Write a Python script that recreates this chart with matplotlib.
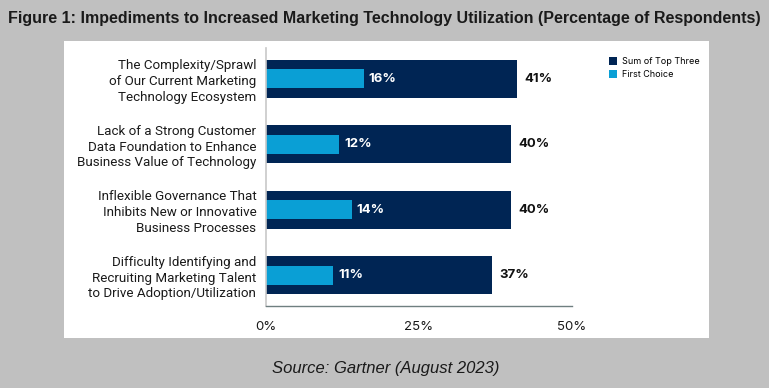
import matplotlib
matplotlib.use('Agg')
import matplotlib.pyplot as plt
from matplotlib.patches import Rectangle

# data
categories = [
    'The Complexity/Sprawl\nof Our Current Marketing\nTechnology Ecosystem',
    'Lack of a Strong Customer\nData Foundation to Enhance\nBusiness Value of Technology',
    'Inflexible Governance That\nInhibits New or Innovative\nBusiness Processes',
    'Difficulty Identifying and\nRecruiting Marketing Talent\nto Drive Adoption/Utilization',
]
top_three = [41, 40, 40, 37]
first_choice = [16, 12, 14, 11]
xticks = [0, 25, 50]
xtick_labels = ['0%', '25%', '50%']

DARK = '#002554'
LIGHT = '#0a9fd5'
BG = '#c0c0c0'
LABEL_FONT = ['Roboto', 'DejaVu Sans']
NUM_FONT = ['Inter', 'DejaVu Sans']

fig = plt.figure(figsize=(7.69, 3.88), dpi=100, facecolor=BG)

# white panel behind the chart
W, H = 769, 388
fig.patches.append(Rectangle((64 / W, 1 - 338 / H), (709 - 64) / W, (338 - 41) / H,
                             transform=fig.transFigure, facecolor='white',
                             edgecolor='none', zorder=-10))

ax = fig.add_axes([266 / W, 1 - 306 / H, (572 - 266) / W, (306 - 48) / H])
ax.set_facecolor('none')
ax.set_zorder(5)

y = list(range(len(categories)))
ax.barh(y, top_three, height=0.58, color=DARK, label='Sum of Top Three')
ax.barh(y, first_choice, height=0.29, color=LIGHT, label='First Choice')

for yi, t, f in zip(y, top_three, first_choice):
    ax.text(t + 1.2, yi, f'{t}%', va='center', ha='left', fontsize=9.5,
            fontweight='bold', color='#111111', family=NUM_FONT)
    ax.text(f + 0.8, yi, f'{f}%', va='center', ha='left', fontsize=9.5,
            fontweight='bold', color='white', family=NUM_FONT)

ax.set_xlim(0, 50)
ax.set_ylim(3.47, -0.47)
ax.set_yticks(y)
ax.set_yticklabels(categories, fontsize=9.6, color='#1a1a1a', family=LABEL_FONT,
                   linespacing=1.28)
ax.set_xticks(xticks)
ax.set_xticklabels(xtick_labels, fontsize=9.5, color='#1a1a1a', family=NUM_FONT)
ax.tick_params(axis='both', length=0)
ax.tick_params(axis='x', pad=11)
ax.tick_params(axis='y', pad=7)

for s in ['top', 'right']:
    ax.spines[s].set_visible(False)
ax.spines['left'].set_color('#c8c8c8')
ax.spines['left'].set_linewidth(1.2)
ax.spines['bottom'].set_color('#6f7f80')
ax.spines['bottom'].set_linewidth(1.0)

leg = ax.legend(loc='upper left', bbox_to_anchor=(609 / W, 1 - 57 / H),
                bbox_transform=fig.transFigure, frameon=False,
                prop={'family': NUM_FONT, 'size': 6.5},
                handlelength=0.9, handleheight=0.9, handletextpad=0.5,
                labelspacing=0.45, borderaxespad=0, borderpad=0)

fig.text(0.5, 1 - 18 / H,
         'Figure 1: Impediments to Increased Marketing Technology Utilization (Percentage of Respondents)',
         ha='center', va='center', fontsize=11.5, fontweight='bold',
         family='Liberation Sans', color='#1a1a1a')
fig.text(386 / W, 1 - 368 / H, 'Source: Gartner (August 2023)', ha='center', va='center',
         fontsize=12, style='italic', family='Liberation Sans', color='#1a1a1a')

fig.savefig('out.png', dpi=100, facecolor=BG)
